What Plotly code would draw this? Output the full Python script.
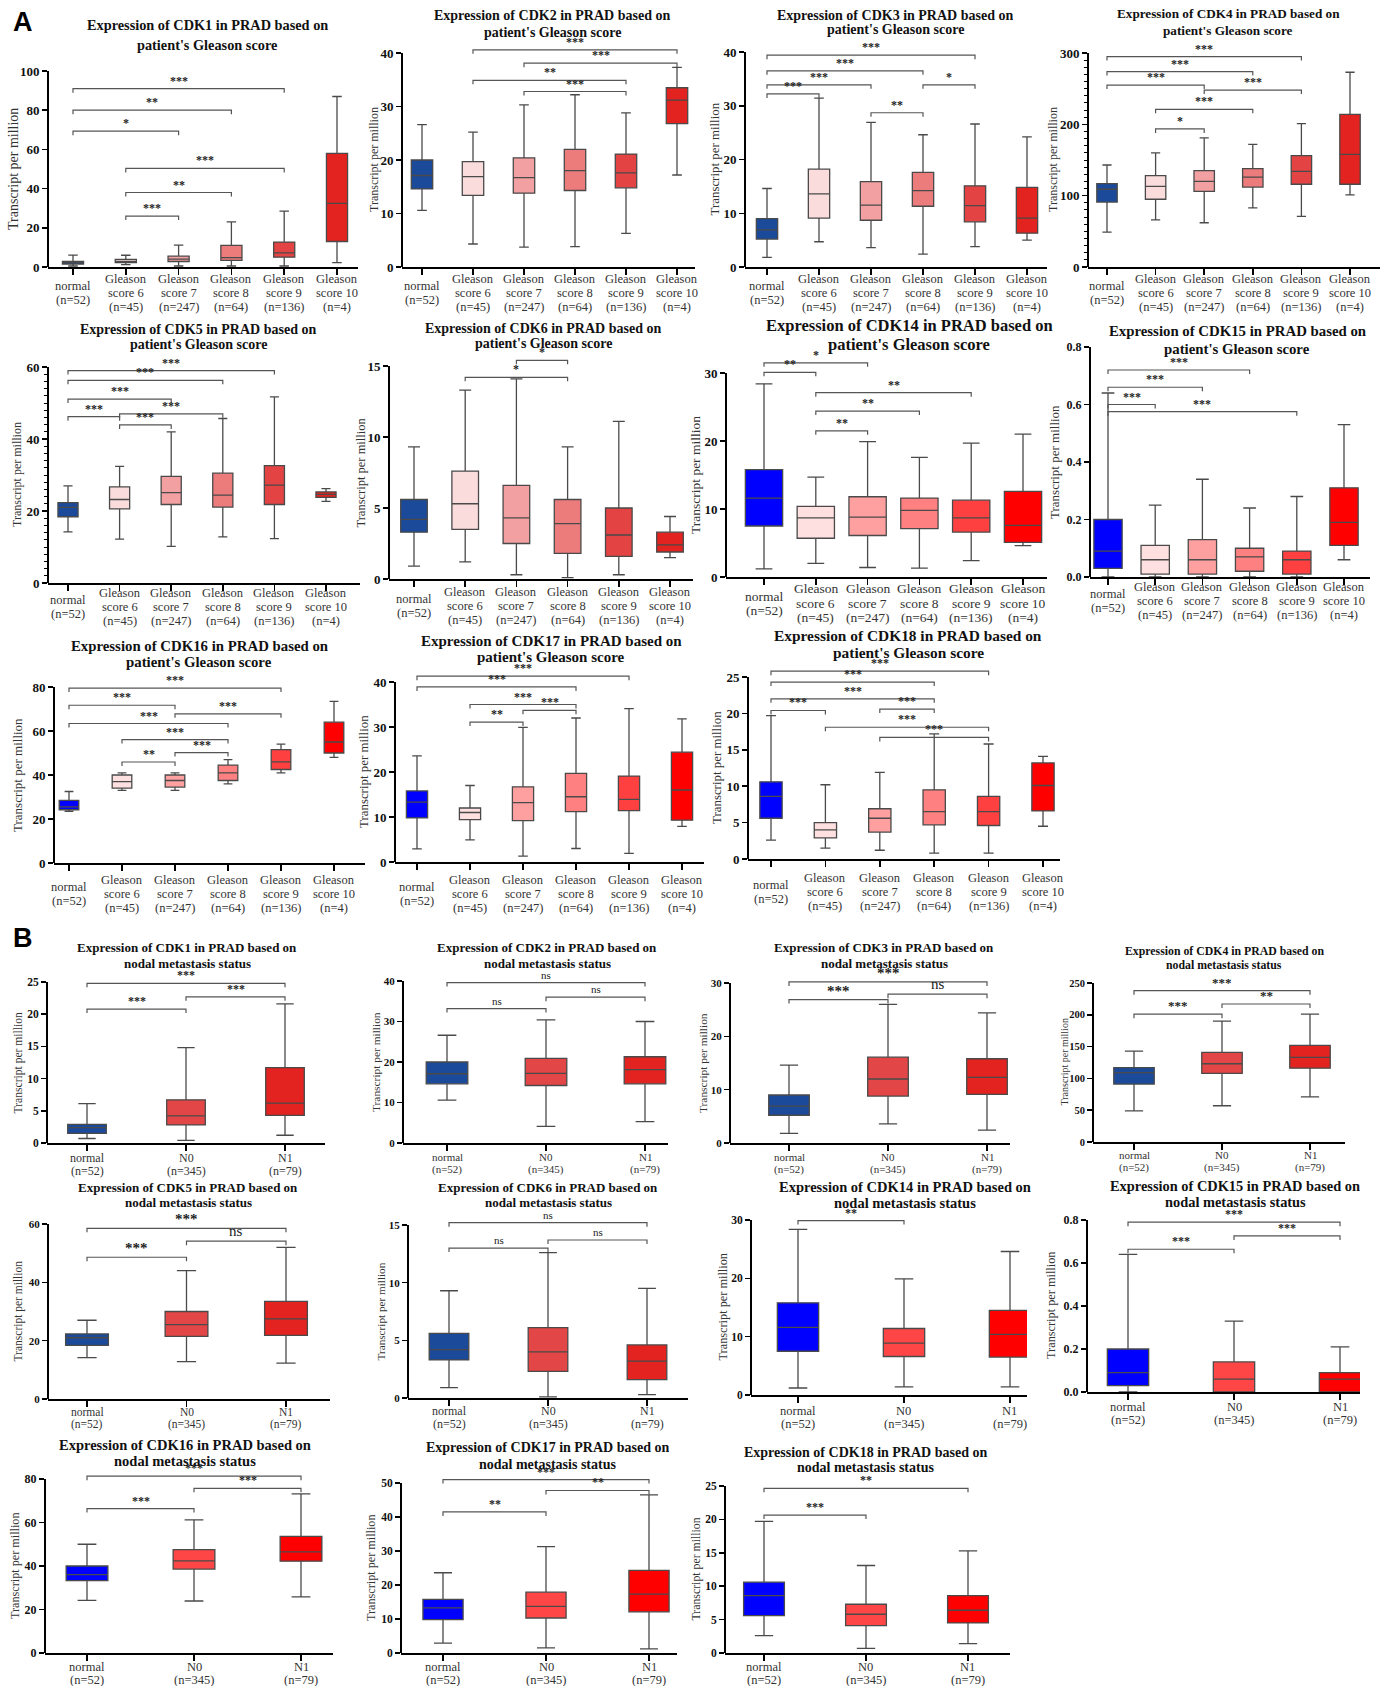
import plotly.graph_objects as go

W = 1386
REF_H = 1686            # height of the layout grid the positions below are measured on
H = 1694                # figure height
SY = H / REF_H          # vertical scale from the measurement grid to the figure
SERIF = "Liberation Serif"
SANS = "Liberation Sans"

# ---------------- tick labels (one list of text lines per group) ----------------
GLEASON_LABELS = [["normal", "(n=52)"], ["Gleason", "score 6", "(n=45)"], ["Gleason", "score 7", "(n=247)"],
                  ["Gleason", "score 8", "(n=64)"], ["Gleason", "score 9", "(n=136)"], ["Gleason", "score 10", "(n=4)"]]
NODAL_LABELS = [["normal", "(n=52)"], ["N0", "(n=345)"], ["N1", "(n=79)"]]

# ---------------- box statistics: [lower whisker, q1, median, q3, upper whisker] per group -------------
CDK1_GLEASON = [[0.5, 1.5, 2.2, 2.9, 6.1], [1.2, 2.3, 2.9, 3.9, 6.0], [0.5, 2.8, 4.0, 5.5, 11.2],
                [0.5, 3.4, 4.8, 11.0, 23.0], [0.5, 5.0, 7.2, 12.7, 28.5], [2.2, 13.0, 32.5, 58.0, 87.0]]
CDK2_GLEASON = [[10.6, 14.6, 17.1, 20.0, 26.6], [4.3, 13.4, 16.9, 19.7, 25.2], [3.7, 13.8, 16.7, 20.4, 30.3],
                [3.8, 14.3, 18.0, 22.0, 32.2], [6.3, 14.8, 17.6, 21.1, 28.8], [17.2, 26.8, 31.2, 33.5, 37.3]]
CDK3_GLEASON = [[1.8, 5.2, 6.9, 9.0, 14.6], [4.7, 9.1, 13.6, 18.2, 31.4], [3.6, 8.7, 11.5, 15.9, 26.9],
                [2.4, 11.3, 14.2, 17.6, 24.6], [3.8, 8.4, 11.4, 15.1, 26.6], [5.0, 6.3, 9.1, 14.8, 24.2]]
CDK4_GLEASON = [[49, 91, 109, 117, 143], [66, 95, 113, 128, 160], [62, 106, 120, 135, 181],
                [83, 112, 126, 138, 172], [71, 116, 134, 156, 201], [101, 116, 158, 214, 273]]
CDK5_GLEASON = [[14.2, 18.4, 21.0, 22.3, 27.0], [12.2, 20.6, 23.2, 26.7, 32.4], [10.2, 21.8, 25.1, 29.6, 42.0],
                [12.8, 21.1, 24.4, 30.5, 45.7], [12.3, 21.8, 27.2, 32.6, 51.7], [22.7, 23.8, 24.6, 25.3, 26.2]]
CDK6_GLEASON = [[0.9, 3.3, 4.2, 5.6, 9.3], [1.2, 3.5, 5.3, 7.6, 13.3], [0.3, 2.5, 4.3, 6.6, 14.1],
                [0.1, 1.8, 3.9, 5.6, 9.3], [0.3, 1.6, 3.1, 5.0, 11.1], [1.5, 1.9, 2.4, 3.3, 4.4]]
CDK14_GLEASON = [[1.2, 7.5, 11.6, 15.8, 28.4], [2.0, 5.7, 8.7, 10.4, 14.7], [1.4, 6.1, 8.8, 11.8, 19.9],
                 [1.3, 7.1, 9.8, 11.6, 17.6], [2.4, 6.6, 8.7, 11.3, 19.7], [4.6, 5.1, 7.6, 12.6, 21.0]]
CDK15_GLEASON = [[0.0, 0.03, 0.09, 0.20, 0.64], [0.0, 0.01, 0.06, 0.11, 0.25], [0.0, 0.01, 0.06, 0.13, 0.34],
                 [0.0, 0.02, 0.07, 0.10, 0.24], [0.0, 0.01, 0.06, 0.09, 0.28], [0.06, 0.11, 0.19, 0.31, 0.53]]
CDK16_GLEASON = [[23.5, 24.2, 25.5, 28.5, 32.5], [33.0, 34.0, 37.0, 40.0, 41.0], [33.0, 34.5, 37.5, 40.0, 41.0],
                 [36.0, 37.5, 41.0, 44.5, 47.0], [41.0, 42.5, 46.0, 51.5, 54.0], [48.0, 50.0, 55.0, 64.0, 73.5]]
CDK17_GLEASON = [[2.9, 9.8, 13.3, 15.8, 23.6], [4.9, 9.4, 11.0, 12.0, 17.0], [1.3, 9.2, 13.2, 16.7, 29.9],
                 [3.0, 11.2, 14.5, 19.7, 32.0], [1.9, 11.4, 13.9, 19.1, 34.1], [7.9, 9.3, 16.0, 24.4, 31.8]]
CDK18_GLEASON = [[2.6, 5.6, 8.6, 10.6, 19.7], [1.5, 2.9, 4.0, 5.0, 10.2], [1.2, 3.7, 5.6, 6.9, 11.9],
                 [0.8, 4.7, 6.5, 9.5, 17.2], [0.8, 4.6, 6.5, 8.6, 15.8], [4.5, 6.6, 10.1, 13.2, 14.1]]

CDK1_NODAL = [[0.7, 1.5, 2.4, 2.9, 6.1], [0.4, 2.8, 4.2, 6.7, 14.8], [1.2, 4.3, 6.2, 11.7, 21.6]]
CDK2_NODAL = [[10.6, 14.6, 17.1, 20.0, 26.6], [4.1, 14.2, 17.2, 20.9, 30.4], [5.3, 14.6, 18.1, 21.3, 30.0]]
CDK3_NODAL = [[1.8, 5.2, 6.9, 9.0, 14.6], [3.6, 8.8, 12.0, 16.1, 26.0], [2.4, 9.1, 12.3, 15.8, 24.4]]
CDK4_NODAL = [[49, 91, 109, 117, 143], [57, 108, 123, 141, 190], [71, 116, 133, 152, 201]]
CDK5_NODAL = [[14.2, 18.4, 21.0, 22.3, 27.0], [12.8, 21.5, 25.5, 30.0, 44.0], [12.3, 21.8, 27.5, 33.5, 52.0]]
CDK6_NODAL = [[0.9, 3.3, 4.2, 5.6, 9.3], [0.1, 2.3, 4.0, 6.1, 12.6], [0.3, 1.6, 3.2, 4.6, 9.5]]
CDK14_NODAL = [[1.2, 7.5, 11.6, 15.8, 28.4], [1.4, 6.6, 8.9, 11.4, 19.9], [1.4, 6.5, 10.4, 14.5, 24.6]]
CDK15_NODAL = [[0.0, 0.03, 0.09, 0.20, 0.64], [0.0, 0.0, 0.06, 0.14, 0.33], [0.0, 0.0, 0.06, 0.09, 0.21]]
CDK16_NODAL = [[24.2, 33.3, 36.0, 40.0, 50.0], [23.9, 38.6, 42.4, 47.5, 61.2], [25.8, 42.2, 46.5, 53.6, 73.2]]
CDK17_NODAL = [[2.9, 9.8, 13.3, 15.8, 23.6], [1.5, 10.3, 13.7, 17.9, 31.3], [1.2, 12.1, 17.3, 24.3, 46.5]]
CDK18_NODAL = [[2.6, 5.6, 8.6, 10.6, 19.7], [0.7, 4.1, 5.8, 7.3, 13.1], [1.4, 4.5, 6.4, 8.6, 15.3]]

# ---------------- significance brackets: (group a, group b, bracket level, label) ----------------
CDK1_GLEASON_SIG = [(0, 4, 91.0, "***"), (0, 3, 80.0, "**"), (0, 2, 69.3, "*"), (1, 4, 50.3, "***"),
                    (1, 3, 38.0, "**"), (1, 2, 26.0, "***")]
CDK2_GLEASON_SIG = [(1, 5, 40.6, "***"), (2, 5, 38.1, "***"), (1, 4, 34.9, "**"), (2, 4, 32.8, "***")]
CDK3_GLEASON_SIG = [(0, 4, 39.4, "***"), (0, 3, 36.5, "***"), (0, 2, 33.9, "***"), (3, 4, 33.9, "*"),
                    (0, 1, 32.2, "***"), (2, 3, 28.7, "**")]
CDK4_GLEASON_SIG = [(0, 4, 295, "***"), (0, 3, 274, "***"), (0, 2, 255, "***"), (2, 4, 248, "***"),
                    (1, 3, 221, "***"), (1, 2, 193.5, "*")]
CDK5_GLEASON_SIG = [(0, 4, 59.0, "***"), (0, 3, 56.3, "***"), (0, 2, 51.1, "***"), (0, 1, 46.2, "***"),
                    (1, 3, 47.0, "***"), (1, 2, 43.9, "***")]
CDK6_GLEASON_SIG = [(2, 3, 15.4, "*"), (1, 3, 14.2, "*")]
CDK14_GLEASON_SIG = [(0, 2, 31.5, "*"), (0, 1, 30.1, "**"), (1, 4, 27.1, "**"), (1, 3, 24.4, "**"),
                     (1, 2, 21.5, "**")]
CDK15_GLEASON_SIG = [(0, 3, 0.72, "***"), (0, 2, 0.66, "***"), (0, 1, 0.60, "***"), (0, 4, 0.575, "***")]
CDK16_GLEASON_SIG = [(0, 4, 79.5, "***"), (0, 2, 71.7, "***"), (2, 4, 67.8, "***"), (0, 3, 63.4, "***"),
                     (1, 3, 56.1, "***"), (2, 3, 50.2, "***"), (1, 2, 45.9, "**")]
CDK17_GLEASON_SIG = [(0, 4, 41.3, "***"), (0, 3, 38.9, "***"), (1, 3, 35.0, "***"), (2, 3, 33.7, "***"),
                     (1, 2, 31.1, "**")]
CDK18_GLEASON_SIG = [(0, 4, 25.8, "***"), (0, 3, 24.3, "***"), (0, 3, 22.0, "***"), (2, 3, 20.6, "***"),
                     (0, 1, 20.4, "***"), (1, 4, 18.1, "***"), (2, 4, 16.7, "***")]

CDK1_NODAL_SIG = [(0, 2, 24.8, "***"), (1, 2, 22.7, "***"), (0, 1, 20.8, "***")]
CDK2_NODAL_SIG = [(0, 2, 39.6, "ns"), (1, 2, 36.0, "ns"), (0, 1, 33.2, "ns")]
CDK3_NODAL_SIG = [(0, 2, 30.2, "***"), (1, 2, 27.9, "ns"), (0, 1, 26.9, "***")]
CDK4_NODAL_SIG = [(0, 2, 238, "***"), (1, 2, 217, "**"), (0, 1, 201, "***")]
CDK5_NODAL_SIG = [(0, 2, 58.5, "***"), (1, 2, 54.1, "ns"), (0, 1, 48.6, "***")]
CDK6_NODAL_SIG = [(0, 2, 15.2, "ns"), (1, 2, 13.7, "ns"), (0, 1, 13.0, "ns")]
CDK14_NODAL_SIG = [(0, 1, 29.9, "**")]
CDK15_NODAL_SIG = [(0, 2, 0.79, "***"), (1, 2, 0.726, "***"), (0, 1, 0.664, "***")]
CDK16_NODAL_SIG = [(0, 2, 81.3, "***"), (1, 2, 75.7, "***"), (0, 1, 66.4, "***")]
CDK17_NODAL_SIG = [(0, 2, 51.0, "***"), (1, 2, 47.8, "**"), (0, 1, 41.5, "**")]
CDK18_NODAL_SIG = [(0, 2, 24.65, "**"), (0, 1, 20.65, "***")]

# ---------------- styles ----------------
PAL_A_DARK = ["#1B4A9A", "#FBDCDC", "#F2A0A1", "#EC7B7C", "#E34343", "#E2231F"]
PAL_A_BRIGHT = ["#0000FF", "#FFE0E0", "#FFA0A0", "#FF8080", "#FF4040", "#FF0000"]
PAL_B_DARK = ["#1B4A9A", "#E34646", "#E2231F"]
PAL_B_BRIGHT = ["#0000FF", "#FF4646", "#FF0000"]


def spec(gene, kind, stats, sig, pal, ax, end, y0, ytop, top, dtick, c0, c1, tx, ty1, ty2, ts, bw,
         yts, ytoff, xfs=None, yfs=13, sfs=12, fmt=None, minor=None, loff=None):
    if xfs is None:
        xfs = 12.5 if kind == "g" else 12
    if loff is None:
        loff = 26 if kind == "g" else 20
    return dict(gene=gene, kind=kind, stats=stats, sig=sig, pal=pal, ax=ax, end=end, y0=y0, ytop=ytop,
                top=top, dtick=dtick, c0=c0, c1=c1, tx=tx, ty1=ty1, ty2=ty2, ts=ts, bw=bw, yts=yts,
                ytoff=ytoff, xfs=xfs, yfs=yfs, sfs=sfs, fmt=fmt, minor=minor, loff=loff)


PANELS = [
    spec("CDK1", "g", CDK1_GLEASON, CDK1_GLEASON_SIG, PAL_A_DARK, 48, 358, 267, 71, 100, 20, 73, 337, 207, 25, 45, 14.3, 0.40, 14, 34),
    spec("CDK2", "g", CDK2_GLEASON, CDK2_GLEASON_SIG, PAL_A_DARK, 402, 695, 267, 53, 40, 10, 422, 677, 552, 16, 32, 14, 0.42, 12, 28),
    spec("CDK3", "g", CDK3_GLEASON, CDK3_GLEASON_SIG, PAL_A_DARK, 745, 1047, 267, 52, 40, 10, 767, 1027, 895, 15, 29, 14, 0.41, 12.9, 30),
    spec("CDK4", "g", CDK4_GLEASON, CDK4_GLEASON_SIG, PAL_A_DARK, 1088, 1380, 267, 53, 300, 100, 1107, 1350, 1228, 14, 30, 13.2, 0.42, 12, 35, minor=10),
    spec("CDK5", "g", CDK5_GLEASON, CDK5_GLEASON_SIG, PAL_A_DARK, 48, 360, 583, 367, 60, 20, 68, 326, 198, 330, 345, 14, 0.39, 12, 31, minor=2, loff=24),
    spec("CDK6", "g", CDK6_GLEASON, CDK6_GLEASON_SIG, PAL_A_DARK, 389, 693, 579, 366, 15, 5, 414, 670, 543, 328, 343, 14, 0.52, 12.5, 28, loff=27),
    spec("CDK14", "g", CDK14_GLEASON, CDK14_GLEASON_SIG, PAL_A_BRIGHT, 726, 1047, 577, 373, 30, 10, 764, 1023, 909, 326, 345, 16.5, 0.72, 13.5, 31, xfs=13.5, yfs=13),
    spec("CDK15", "g", CDK15_GLEASON, CDK15_GLEASON_SIG, PAL_A_BRIGHT, 1090, 1370, 577, 347, 0.8, 0.2, 1108, 1344, 1237, 331, 349, 14.8, 0.6, 13, 36, yfs=12, fmt=".1f", loff=24),
    spec("CDK16", "g", CDK16_GLEASON, CDK16_GLEASON_SIG, PAL_A_BRIGHT, 54, 365, 863, 687, 80, 20, 69, 334, 199, 646, 662, 14.8, 0.37, 13, 36, loff=31),
    spec("CDK17", "g", CDK17_GLEASON, CDK17_GLEASON_SIG, PAL_A_BRIGHT, 395, 704, 862, 682, 40, 10, 417, 682, 551, 641, 657, 15, 0.40, 12.9, 31, loff=32),
    spec("CDK18", "g", CDK18_GLEASON, CDK18_GLEASON_SIG, PAL_A_BRIGHT, 748, 1060, 859, 677, 25, 5, 771, 1043, 908, 636, 652, 15.4, 0.41, 12.9, 31, loff=33),
    spec("CDK1", "n", CDK1_NODAL, CDK1_NODAL_SIG, PAL_B_DARK, 47, 325, 1143, 982, 25, 5, 87, 285, 187, 948, 963, 13, 0.39, 11.6, 29, yfs=11.5, loff=21),
    spec("CDK2", "n", CDK2_NODAL, CDK2_NODAL_SIG, PAL_B_DARK, 403, 668, 1143, 981, 40, 10, 447, 645, 547, 948, 963, 13, 0.42, 11.4, 27, xfs=11, yfs=11, sfs=11),
    spec("CDK3", "n", CDK3_NODAL, CDK3_NODAL_SIG, PAL_B_DARK, 730, 1010, 1143, 983, 30, 10, 789, 987, 884, 948, 963, 13, 0.41, 11.4, 27, xfs=11, yfs=11, sfs=15),
    spec("CDK4", "n", CDK4_NODAL, CDK4_NODAL_SIG, PAL_B_DARK, 1093, 1345, 1142, 983, 250, 50, 1134, 1310, 1224, 951, 965, 11.8, 0.46, 10, 29, xfs=11, yfs=10.5, sfs=13, loff=19),
    spec("CDK5", "n", CDK5_NODAL, CDK5_NODAL_SIG, PAL_B_DARK, 48, 330, 1399, 1224, 60, 20, 87, 286, 188, 1187, 1202, 13, 0.43, 11.5, 30, xfs=11.5, yfs=11, sfs=15, loff=19),
    spec("CDK6", "n", CDK6_NODAL, CDK6_NODAL_SIG, PAL_B_DARK, 408, 688, 1398, 1225, 15, 5, 449, 647, 548, 1187, 1202, 13, 0.40, 11.2, 28, xfs=12, yfs=11, sfs=11, loff=19),
    spec("CDK14", "n", CDK14_NODAL, CDK14_NODAL_SIG, PAL_B_BRIGHT, 751, 1027, 1395, 1220, 30, 10, 798, 1010, 905, 1187, 1203, 14.5, 0.39, 12.3, 29, xfs=12.5, yfs=11.5, loff=22),
    spec("CDK15", "n", CDK15_NODAL, CDK15_NODAL_SIG, PAL_B_BRIGHT, 1087, 1360, 1392, 1220, 0.8, 0.2, 1128, 1340, 1235, 1186, 1202, 14.4, 0.39, 12.3, 36, xfs=12.5, yfs=12, fmt=".1f", loff=21),
    spec("CDK16", "n", CDK16_NODAL, CDK16_NODAL_SIG, PAL_B_BRIGHT, 45, 333, 1653, 1479, 80, 20, 87, 301, 185, 1445, 1461, 14.5, 0.39, 12.2, 30, xfs=12.5, yfs=12),
    spec("CDK17", "n", CDK17_NODAL, CDK17_NODAL_SIG, PAL_B_BRIGHT, 401, 677, 1653, 1483, 50, 10, 443, 649, 547, 1447, 1464, 14, 0.39, 12.2, 30, xfs=12.5, yfs=11.5),
    spec("CDK18", "n", CDK18_NODAL, CDK18_NODAL_SIG, PAL_B_BRIGHT, 725, 1010, 1653, 1486, 25, 5, 764, 968, 865, 1452, 1467, 14, 0.40, 11.8, 30, xfs=12.5, yfs=11.5),
]


def py(v):
    """measured vertical pixel -> paper fraction"""
    return 1 - v * SY / H


fig = go.Figure()
shapes = []
annotations = []
axes = {}

for k, p in enumerate(PANELS, start=1):
    xa = "x" if k == 1 else f"x{k}"
    ya = "y" if k == 1 else f"y{k}"
    xkey = "xaxis" if k == 1 else f"xaxis{k}"
    ykey = "yaxis" if k == 1 else f"yaxis{k}"
    stats = p["stats"]
    n = len(stats)
    labels = GLEASON_LABELS if p["kind"] == "g" else NODAL_LABELS
    y0, ytop = p["y0"], p["ytop"]
    vpp = p["top"] / (y0 - ytop)          # data units per measured pixel
    max_level = max([s[2] for s in p["sig"]] + [p["top"]])
    dom_top = min(ytop, y0 - max_level / vpp - 22)
    y_hi = (y0 - dom_top) * vpp
    step = (p["c1"] - p["c0"]) / (n - 1)
    xr = [-(p["c0"] - p["ax"]) / step, (n - 1) + (p["end"] - p["c1"]) / step]

    for i, st in enumerate(stats):
        fig.add_trace(go.Box(
            x=[i], lowerfence=[st[0]], q1=[st[1]], median=[st[2]], q3=[st[3]], upperfence=[st[4]],
            width=p["bw"], fillcolor=p["pal"][i], line=dict(color="#4a4a4a", width=1.3),
            whiskerwidth=0.45, boxpoints=False, xaxis=xa, yaxis=ya, showlegend=False, hoverinfo="skip"))

    tick_d = 4 * vpp
    for (a, b, lvl, lab) in p["sig"]:
        shapes.append(dict(type="path", xref=xa, yref=ya,
                           path=f"M {a},{lvl - tick_d} L {a},{lvl} L {b},{lvl} L {b},{lvl - tick_d}",
                           line=dict(color="#555555", width=1.2)))
        is_ns = lab == "ns"
        annotations.append(dict(x=(a + b) / 2, y=lvl, xref=xa, yref=ya, text=lab, showarrow=False,
                                xanchor="center", yanchor="bottom", yshift=-1 if not is_ns else 0,
                                font=dict(family=SERIF, size=p["sfs"], color="#222",
                                          weight="normal" if is_ns else "bold")))

    # category labels: lines centred on a common block below the axis
    line_gap = 14 if p["kind"] == "g" else 13
    center_px = y0 + p["loff"]
    for i, lines in enumerate(labels):
        m = len(lines)
        for li, txt in enumerate(lines):
            ly = center_px + (li - (m - 1) / 2) * line_gap
            annotations.append(dict(x=i, y=py(ly), xref=xa, yref="paper", text=txt, showarrow=False,
                                    xanchor="center", yanchor="middle",
                                    font=dict(family=SERIF, size=p["xfs"], color="#333333")))

    nt = int(round(p["top"] / p["dtick"]))
    tickvals = [round(j * p["dtick"], 6) for j in range(nt + 1)]
    minor = None
    if p["minor"]:
        mv = [m * p["minor"] for m in range(int(p["top"] / p["minor"]) + 1)]
        mv = [m for m in mv if all(abs(m - t) > 1e-9 for t in tickvals)]
        minor = dict(tickvals=mv, ticks="outside", ticklen=3, tickwidth=1, tickcolor="black")

    axes[xkey] = dict(domain=[p["ax"] / W, p["end"] / W], range=xr, anchor=ya,
                      tickvals=list(range(n)), showticklabels=False, ticks="outside", ticklen=6,
                      tickwidth=1.5, tickcolor="black", showline=True, linecolor="black", linewidth=2,
                      showgrid=False, zeroline=False)
    yax = dict(domain=[py(y0), py(dom_top)], range=[0, y_hi], anchor=xa,
               tickvals=tickvals, ticks="outside", ticklen=5, tickwidth=1.5, tickcolor="black",
               showline=False, showgrid=False, zeroline=False,
               tickfont=dict(family=SERIF, size=p["yfs"], color="#111111", weight="bold"))
    if p["fmt"]:
        yax["tickformat"] = p["fmt"]
    if minor:
        yax["minor"] = minor
    axes[ykey] = yax

    # y axis line (from 0 up to the top tick)
    shapes.append(dict(type="line", xref="paper", yref="paper", x0=p["ax"] / W, x1=p["ax"] / W,
                       y0=py(y0), y1=py(ytop), line=dict(color="black", width=2)))

    # y axis title
    annotations.append(dict(x=(p["ax"] - p["ytoff"]) / W, y=py((y0 + ytop) / 2),
                            xref="paper", yref="paper", text="Transcript per million", textangle=-90,
                            showarrow=False, xanchor="center", yanchor="middle",
                            font=dict(family=SERIF, size=p["yts"], color="#333333")))

    # panel title (two lines)
    second = "patient's Gleason score" if p["kind"] == "g" else "nodal metastasis status"
    for txt, ty in ((f"Expression of {p['gene']} in PRAD based on", p["ty1"]), (second, p["ty2"])):
        annotations.append(dict(x=p["tx"] / W, y=py(ty), xref="paper", yref="paper", text=txt,
                                showarrow=False, xanchor="center", yanchor="middle",
                                font=dict(family=SERIF, size=p["ts"], color="#111111", weight="bold")))

# panel letters
for letter, lx, ly in (("A", 23, 22), ("B", 23, 938)):
    annotations.append(dict(x=lx / W, y=py(ly), xref="paper", yref="paper", text=letter,
                            showarrow=False, xanchor="center", yanchor="middle",
                            font=dict(family=SANS, size=27, color="black", weight="bold")))

fig.update_layout(width=W, height=H, autosize=False, margin=dict(l=0, r=0, t=0, b=0),
                  paper_bgcolor="white", plot_bgcolor="white", showlegend=False,
                  boxmode="overlay", shapes=shapes, annotations=annotations, **axes)

fig.write_html("out.html", config={"displayModeBar": False, "staticPlot": True},
               post_script="document.body.style.margin='0';")
